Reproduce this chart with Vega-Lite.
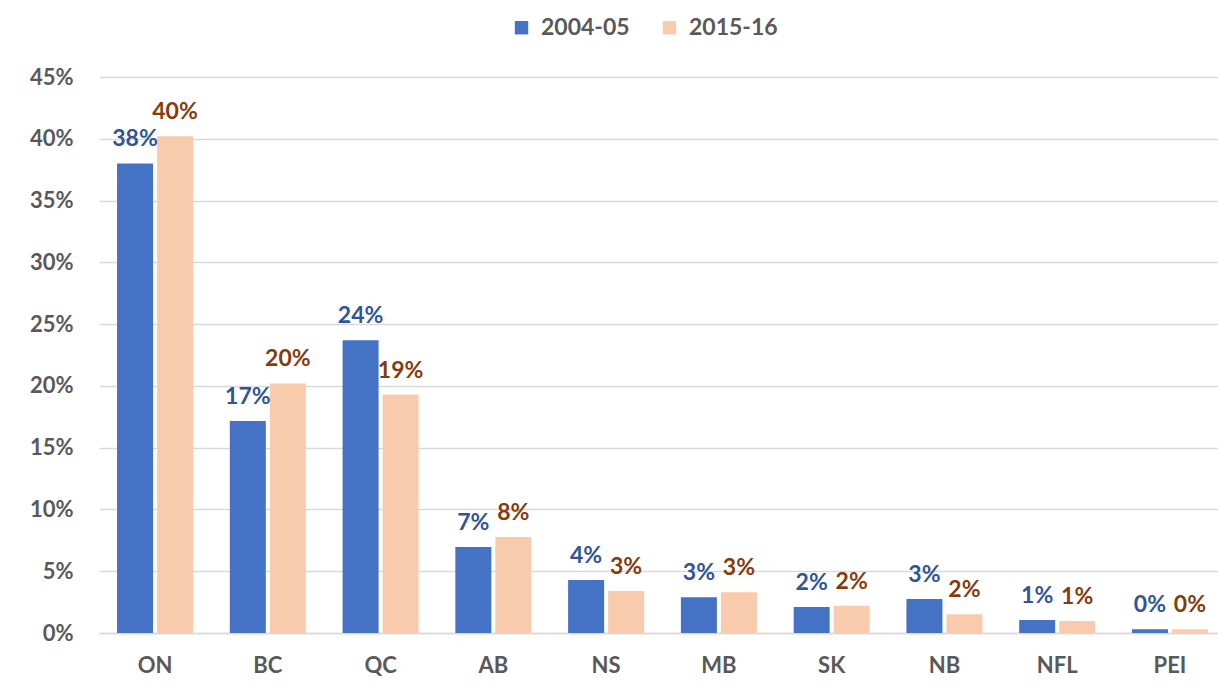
{
  "$schema": "https://vega.github.io/schema/vega-lite/v6.json",
  "autosize": "none",
  "width": 1127,
  "height": 556,
  "padding": {"left": 99, "top": 77, "right": 0, "bottom": 67},
  "background": "white",
  "config": {
    "view": {"stroke": null},
    "font": "Lato",
    "axis": {"labelFont": "Lato", "labelFontWeight": "bold", "labelColor": "#595959", "labelFontSize": 22}
  },
  "data": {
    "values": [
      {"prov": "ON", "year": "2004-05", "v": 0.380},
      {"prov": "ON", "year": "2015-16", "v": 0.402},
      {"prov": "BC", "year": "2004-05", "v": 0.1715},
      {"prov": "BC", "year": "2015-16", "v": 0.202},
      {"prov": "QC", "year": "2004-05", "v": 0.237},
      {"prov": "QC", "year": "2015-16", "v": 0.193},
      {"prov": "AB", "year": "2004-05", "v": 0.0696},
      {"prov": "AB", "year": "2015-16", "v": 0.0777},
      {"prov": "NS", "year": "2004-05", "v": 0.0429},
      {"prov": "NS", "year": "2015-16", "v": 0.034},
      {"prov": "MB", "year": "2004-05", "v": 0.029},
      {"prov": "MB", "year": "2015-16", "v": 0.033},
      {"prov": "SK", "year": "2004-05", "v": 0.021},
      {"prov": "SK", "year": "2015-16", "v": 0.022},
      {"prov": "NB", "year": "2004-05", "v": 0.0275},
      {"prov": "NB", "year": "2015-16", "v": 0.0152},
      {"prov": "NFL", "year": "2004-05", "v": 0.0105},
      {"prov": "NFL", "year": "2015-16", "v": 0.0097},
      {"prov": "PEI", "year": "2004-05", "v": 0.003},
      {"prov": "PEI", "year": "2015-16", "v": 0.003}
    ]
  },
  "encoding": {
    "x": {
      "field": "prov", "type": "nominal", "sort": null,
      "scale": {"paddingInner": 0.326, "paddingOuter": 0.16},
      "axis": {"title": null, "labelAngle": 0, "ticks": false, "domainColor": "#D9D9D9", "domainWidth": 1.5, "labelPadding": 22}
    },
    "xOffset": {"field": "year", "type": "nominal", "scale": {"paddingInner": 0.1}},
    "y": {
      "field": "v", "type": "quantitative",
      "scale": {"domain": [0, 0.45]},
      "axis": {"title": null, "format": ".0%", "values": [0, 0.05, 0.1, 0.15, 0.2, 0.25, 0.3, 0.35, 0.4, 0.45], "domain": false, "ticks": false, "gridColor": "#D9D9D9", "gridWidth": 1.5, "labelPadding": 26}
    }
  },
  "layer": [
    {
      "mark": {"type": "bar"},
      "encoding": {
        "color": {
          "field": "year", "type": "nominal",
          "scale": {"domain": ["2004-05", "2015-16"], "range": ["#4472C4", "#F8CBAD"]},
          "legend": {
            "title": null, "orient": "none", "direction": "horizontal",
            "legendX": 411, "legendY": -61,
            "symbolType": "square", "symbolSize": 180, "symbolStrokeWidth": 0,
            "labelFont": "Lato", "labelFontWeight": "bold", "labelFontSize": 23, "labelColor": "#595959",
            "columnPadding": 28, "labelOffset": 8
          }
        }
      }
    },
    {
      "mark": {"type": "text", "baseline": "bottom", "dy": -12, "fontSize": 23, "fontWeight": "bold", "font": "Lato"},
      "encoding": {
        "text": {"field": "v", "type": "quantitative", "format": ".0%"},
        "color": {"condition": {"test": "datum.year === '2004-05'", "value": "#2F5597"}, "value": "#843C0C"}
      }
    }
  ]
}
